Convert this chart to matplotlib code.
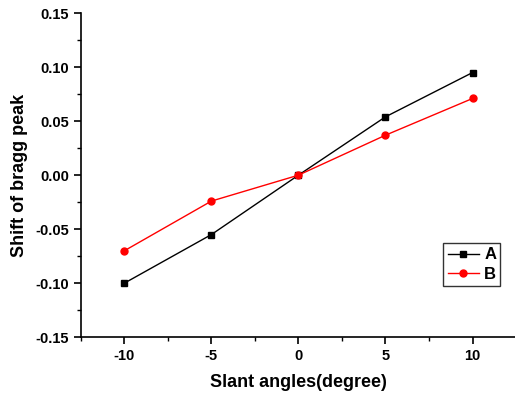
import matplotlib
matplotlib.use("Agg")
import matplotlib.pyplot as plt
from matplotlib.ticker import MultipleLocator

plt.rcParams['font.family'] = ['Liberation Sans', 'DejaVu Sans']
plt.rcParams['font.weight'] = 'bold'
plt.rcParams['axes.unicode_minus'] = False

# data
angles = [-10, -5, 0, 5, 10]
shift_a = [-0.100, -0.055, 0.000, 0.054, 0.095]
shift_b = [-0.070, -0.024, 0.000, 0.037, 0.071]

fig = plt.figure(figsize=(5.15, 3.99), dpi=100)
ax = fig.add_axes([0.157, 0.155, 0.845, 0.812])

ax.plot(angles, shift_a, color='black', marker='s', markersize=4.5, lw=1, label='A')
ax.plot(angles, shift_b, color='red', marker='o', markersize=5, lw=1, label='B')

ax.set_xlim(-12.5, 12.5)
ax.set_ylim(-0.15, 0.15)
ax.xaxis.set_major_locator(MultipleLocator(5))
ax.xaxis.set_minor_locator(MultipleLocator(2.5))
ax.yaxis.set_major_locator(MultipleLocator(0.05))
ax.yaxis.set_minor_locator(MultipleLocator(0.025))
ax.yaxis.set_major_formatter(plt.FuncFormatter(lambda v, p: f"{v:.2f}"))

for s in ['top', 'right']:
    ax.spines[s].set_visible(False)
for s in ['left', 'bottom']:
    ax.spines[s].set_linewidth(1.2)
ax.tick_params(which='major', direction='out', length=5, width=1.2, labelsize=10.5)
ax.tick_params(which='minor', direction='out', length=3, width=1.0)

ax.set_xlabel('Slant angles(degree)', fontsize=13, fontweight='bold', labelpad=8)
ax.set_ylabel('Shift of bragg peak', fontsize=13, fontweight='bold', labelpad=5)

leg = ax.legend(loc='upper left', bbox_to_anchor=(0.833, 0.29), fontsize=12,
                frameon=True, fancybox=False, edgecolor='black', handlelength=1.9,
                borderpad=0.25, labelspacing=0.25, handletextpad=0.3, borderaxespad=0)
leg.get_frame().set_linewidth(1.0)
for t in leg.get_texts():
    t.set_fontweight('bold')

fig.savefig('out.png', dpi=100)
